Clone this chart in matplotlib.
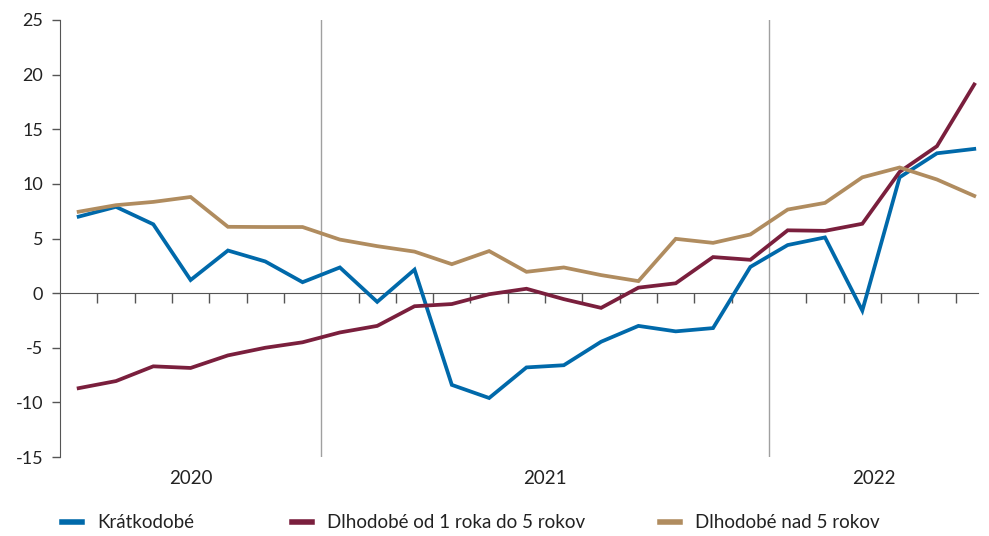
import matplotlib
matplotlib.use("Agg")
import matplotlib.pyplot as plt
from matplotlib.lines import Line2D

# mesiace jún 2020 - jún 2022
years = ["2020", "2021", "2022"]
months_per_year = [7, 12, 6]

kratkodobe = [7.0, 7.9, 6.3, 1.2, 3.9, 2.9, 1.0,
              2.35, -0.8, 2.15, -8.4, -9.6, -6.8, -6.6, -4.45, -3.0, -3.5, -3.2, 2.4,
              4.4, 5.1, -1.6, 10.6, 12.8, 13.2]
dlh_1_5 = [-8.7, -8.05, -6.7, -6.85, -5.7, -5.0, -4.5,
           -3.6, -3.0, -1.2, -1.0, -0.1, 0.4, -0.55, -1.35, 0.5, 0.9, 3.3, 3.05,
           5.75, 5.7, 6.35, 11.1, 13.45, 19.1]
dlh_nad_5 = [7.45, 8.05, 8.35, 8.8, 6.07, 6.05, 6.05,
             4.9, 4.3, 3.8, 2.65, 3.85, 1.95, 2.35, 1.65, 1.1, 4.97, 4.6, 5.37,
             7.65, 8.26, 10.6, 11.5, 10.4, 8.9]

labels = ["Krátkodobé", "Dlhodobé od 1 roka do 5 rokov", "Dlhodobé nad 5 rokov"]
colors = ["#0069aa", "#7a1f3d", "#b08c5f"]

plt.rcParams["font.family"] = ["Lato", "DejaVu Sans"]
plt.rcParams["font.size"] = 13.5

fig = plt.figure(figsize=(9.89, 5.36), dpi=100)
ax = fig.add_axes([60 / 989, 79 / 536, 918 / 989, 437 / 536])

n = len(kratkodobe)
x = [i + 0.5 for i in range(n)]
for series, c, lab in zip([kratkodobe, dlh_1_5, dlh_nad_5], colors, labels):
    ax.plot(x, series, color=c, lw=2.7, label=lab, solid_joinstyle="miter", zorder=3)

ax.set_xlim(0, 24.6)
ax.set_ylim(-15, 25)
ax.set_yticks(range(-15, 26, 5))
ax.set_yticklabels([str(v) for v in range(-15, 26, 5)])

# hranice rokov
bounds = [0]
for m in months_per_year:
    bounds.append(bounds[-1] + m)
for b in bounds[1:-1]:
    ax.axvline(b, color="#a0a0a0", lw=1, zorder=1)

# os x na nule s mesačnými čiarkami
ax.spines["bottom"].set_position(("data", 0))
ax.spines["bottom"].set_color("#555555")
ax.spines["left"].set_color("#555555")
ax.spines["top"].set_visible(False)
ax.spines["right"].set_visible(False)
month_ticks = [m for m in range(1, n) if m not in bounds]
ax.set_xticks(month_ticks)
ax.set_xticklabels([])
ax.tick_params(axis="x", direction="out", length=7, color="#555555", width=1)
ax.tick_params(axis="y", direction="out", length=6, color="#555555", width=1,
               labelsize=13, labelcolor="#222222", pad=6)

for i, yr in enumerate(years):
    mid = (bounds[i] + min(bounds[i + 1], 24.6)) / 2
    ax.text(mid, -17.0, yr, ha="center", va="center", fontsize=13.5, color="#222222")

# legenda
leg_x = [62 / 989, 292 / 989, 660 / 989]
for i in range(3):
    h = Line2D([], [], color=colors[i], lw=4)
    fig.legend([h], [labels[i]], loc="center left", bbox_to_anchor=(leg_x[i], 13 / 536),
               frameon=False, handlelength=1.07, handletextpad=0.8, fontsize=13.5,
               borderpad=0, borderaxespad=0, labelcolor="#222222")

fig.savefig("out.png", dpi=100)
